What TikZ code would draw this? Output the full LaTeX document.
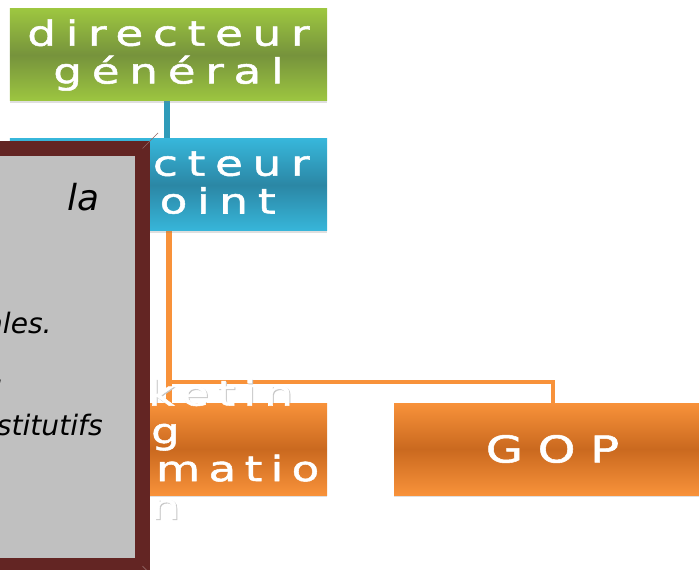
\documentclass[tikz,border=0pt]{standalone}
\usepackage{fontspec}
\setmainfont{DejaVu Sans}
\newfontfamily\orgfont{DejaVu Sans}[FakeStretch=1.3, FakeBold=1.5, LetterSpace=28]
\newfontfamily\mkfont{DejaVu Sans}[FakeStretch=1.3, FakeBold=1.5, LetterSpace=24]
\newfontfamily\gopfont{DejaVu Sans}[FakeStretch=1.3, FakeBold=1.5, LetterSpace=40]
\usetikzlibrary{calc,shadows}
\definecolor{gr_top}{HTML}{9DC640}
\definecolor{gr_mid}{HTML}{76933C}
\definecolor{bl_top}{HTML}{37B6DA}
\definecolor{bl_mid}{HTML}{2B87A5}
\definecolor{or_top}{HTML}{F8923A}
\definecolor{or_mid}{HTML}{CA691F}
\definecolor{frame_red}{HTML}{632523}
\definecolor{note_gray}{HTML}{C0C0C0}
\tikzset{
  org_box/.style = {rectangle, minimum width=6.34cm, minimum height=1.84cm, inner sep=0pt, align=center, text=white,
    font=\orgfont\fontsize{19.8}{21.5}\selectfont, drop shadow={shadow xshift=0pt, shadow yshift=-1.2pt, opacity=.25}},
  org_g/.style = {org_box, top color=gr_top, bottom color=gr_top, middle color=gr_mid},
  org_b/.style = {org_box, top color=bl_top, bottom color=bl_top, middle color=bl_mid},
  org_o/.style = {org_box, top color=or_top, bottom color=or_top, middle color=or_mid},
  org_label/.style = {align=center, inner sep=0pt, font=\mkfont\fontsize{19.8}{21.5}\selectfont},
  blue_line/.style = {draw=bl_top!85!black, line width=3.4pt},
  org_line/.style = {draw=or_top, line width=2.2pt},
  note_frame/.style = {rectangle, draw=frame_red, line width=0.31cm, fill=note_gray, minimum width=3.35cm, minimum height=8.35cm, inner sep=0pt},
  note_text/.style = {inner sep=0pt, anchor=base east, font=\itshape\fontsize{16}{18}\selectfont}
}
\begin{document}
\begin{tikzpicture}
\useasboundingbox (0,0) rectangle (13.98,-11.38);
\clip (0,0) rectangle (13.98,-11.38);
% connectors
\draw[blue_line] (3.34,-2.0) coordinate (dgfoot) -- (3.34,-2.8) coordinate (dahead);
\coordinate (dafoot) at (3.38,-4.6);
\coordinate (mkhead) at (3.38,-8.06);
\coordinate (gophead) at (11.06,-8.06);
\draw[org_line, line width=3pt] (dafoot) -- (mkhead);
\draw[org_line] (dafoot) |- ($(gophead)+(0,0.42)$) -- (gophead);
% boxes
\node[org_g] (dg) at (3.37,-1.1) {directeur\\général};
\node[org_b] (da) at (3.37,-3.70) {directeur\\adjoint};
\node[org_label, text=black!22] (mkshade) at (3.33,-9.0) {Marketin\\g\\informatio\\n};
\node[org_o] (mk) at (3.37,-8.98) {};
\node[org_label, text=white] (mklabel) at ($(mk.center)+(-0.06,0)$) {Marketin\\g\\informatio\\n};
\node[org_o, font=\gopfont\fontsize{21}{24}\selectfont] (gop) at (11.05,-8.98) {GOP};
% note on top
\node[note_frame] (frame) at (1.175,-7.145) {};
\draw[frame_red!70!white, line width=0.4pt] (frame.north east) ++(0.155,0.155) -- ++(-0.31,-0.31);
\draw[frame_red!70!white, line width=0.4pt] (frame.south east) ++(0.155,-0.155) -- ++(-0.31,0.31);
\node[note_text, font=\itshape\fontsize{20.4}{24}\selectfont] (n1) at (2.0,-4.22) {la};
\node[note_text] (n2) at (1.04,-6.66) {ales.};
\node[note_text] (n3) at (0.10,-7.66) {.};
\node[note_text] (n4) at (2.06,-8.70) {nstitutifs};
\end{tikzpicture}
\end{document}
